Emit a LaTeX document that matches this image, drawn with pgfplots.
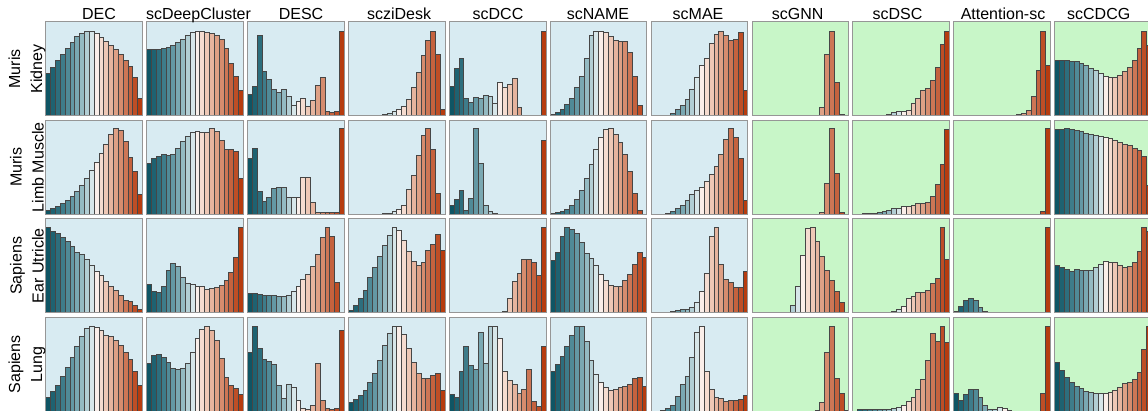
\documentclass[border=0pt]{standalone}
\usepackage{pgfplots}
\pgfplotsset{compat=1.18}
\usepackage{fontspec}
\setmainfont{Liberation Sans}
\definecolor{bgb}{RGB}{216,235,242}
\definecolor{bgg}{RGB}{200,246,200}
\definecolor{frm}{RGB}{150,150,150}
\definecolor{edg}{RGB}{70,70,70}
\definecolor{c0}{RGB}{15,85,100}
\definecolor{c1}{RGB}{30,98,113}
\definecolor{c2}{RGB}{45,110,125}
\definecolor{c3}{RGB}{62,124,138}
\definecolor{c4}{RGB}{80,138,151}
\definecolor{c5}{RGB}{100,152,164}
\definecolor{c6}{RGB}{122,168,178}
\definecolor{c7}{RGB}{148,186,194}
\definecolor{c8}{RGB}{178,206,212}
\definecolor{c9}{RGB}{215,230,233}
\definecolor{c10}{RGB}{250,238,233}
\definecolor{c11}{RGB}{245,220,208}
\definecolor{c12}{RGB}{238,200,182}
\definecolor{c13}{RGB}{230,180,158}
\definecolor{c14}{RGB}{222,160,133}
\definecolor{c15}{RGB}{214,140,110}
\definecolor{c16}{RGB}{205,118,85}
\definecolor{c17}{RGB}{197,98,62}
\definecolor{c18}{RGB}{190,78,38}
\definecolor{c19}{RGB}{182,60,15}
\pgfplotsset{panel/.style={width=96.7pt,height=94.3pt,scale only axis,anchor=south west,
  xmin=-0.5,xmax=19.5,ymin=0,xtick=\empty,ytick=\empty,
  axis line style={draw=frm,line width=1pt},axis on top}}
\newcommand\hist[1]{%
  \foreach \v [count=\i from 0] in {#1} {%
    \edef\tmp{\noexpand\addplot[ybar,bar width=1,bar shift=0pt,fill=c\i,draw=edg,line width=0.7pt] coordinates {(\i,\v)};}%
    \tmp
  }}
\newcommand\panel[5]{%
  \begin{axis}[panel,at={(45.7pt+#1*100.9pt,295pt-#2*98.5pt)},axis background/.style={fill=#3},ymax=#4]
  \hist{#5}
  \end{axis}}
\begin{document}
\begin{tikzpicture}[font=\fontsize{16}{22}\selectfont]
% Row 0: Muris Kidney
\panel{0}{0}{bgb}{283}{128,146,167,185,202,222,238,248,253,254,248,236,224,213,200,185,168,148,115,53}
\panel{1}{0}{bgb}{283}{200,200,200,202,206,213,220,230,241,250,254,253,251,248,243,230,203,158,118,78}
\panel{2}{0}{bgb}{283}{65,88,243,135,111,80,70,80,58,33,43,53,30,48,92,116,13,10,15,253}
\panel{3}{0}{bgb}{283}{0,0,0,0,0.5,1,2,4,7,14,20,30,51,86,131,181,228,253,185,21}
\panel{4}{0}{bgb}{283}{88,143,173,53,41,57,53,61,58,38,100,86,96,112,26,2,1,1,2,253}
\panel{5}{0}{bgb}{283}{5,11,20,36,53,86,120,174,243,253,254,250,238,228,223,223,191,120,32,1}
\panel{6}{0}{bgb}{283}{0,0,1,2,8,20,33,50,80,117,151,173,218,245,253,243,228,230,251,78}
\panel{7}{0}{bgg}{283}{0,0,0,0,0,0,0,0,0,0,0,0,0,0,26,186,253,100,5,0}
\panel{8}{0}{bgg}{283}{0,0,0,0,0,1,3,6,10,13,15,18,38,53,78,83,108,146,215,253}
\panel{9}{0}{bgg}{283}{0,0,0,0,0,0,0,0,0,0,1,1,2,4,8,18,60,138,253,152}
\panel{10}{0}{bgg}{283}{166,166,166,165,163,158,151,143,136,128,120,116,116,123,133,145,166,203,253,213}
% Row 1: Muris Limb Muscle
\panel{0}{1}{bgb}{279}{13,17,25,34,42,55,69,87,107,132,155,182,209,237,254,249,215,170,129,59}
\panel{1}{1}{bgb}{279}{152,167,172,177,175,179,195,215,230,242,247,242,242,254,245,219,194,192,187,107}
\panel{2}{1}{bgb}{279}{167,197,67,39,52,77,80,79,52,52,52,111,109,35,7,5,5,5,5,254}
\panel{3}{1}{bgb}{279}{0,0,0,0,0,0,1,2,4,8,14,27,73,117,175,234,254,192,64,1}
\panel{4}{1}{bgb}{279}{27,44,71,11,47,254,152,27,10,4,1,0,0,0,0,0,0,0,0,219}
\panel{5}{1}{bgb}{279}{3,5,9,14,27,45,72,107,149,192,229,252,254,237,212,179,129,62,12,1}
\panel{6}{1}{bgb}{279}{0,0,1,3,9,17,27,42,59,72,79,99,119,142,177,222,254,227,165,42}
\panel{7}{1}{bgg}{279}{0,0,0,0,0,0,0,0,0,0,0,0,0,0,7,92,254,122,5,0}
\panel{8}{1}{bgg}{279}{0,1,2,3,4,6,9,12,17,17,23,24,26,32,32,35,55,89,149,252}
\panel{9}{1}{bgg}{279}{0,0,0,0,0,0,0,0,0,0,0,0,0,0,0,0,0,1,9,254}
\panel{10}{1}{bgg}{279}{252,252,254,252,249,245,240,237,234,232,227,224,219,214,209,204,197,189,172,85}
% Row 2: Sapiens Ear Utricle
\panel{0}{2}{bgb}{278}{253,242,234,223,212,197,180,172,158,140,122,112,93,80,67,52,38,33,22,10}
\panel{1}{2}{bgb}{278}{83,65,60,80,125,145,138,105,88,85,80,78,69,72,75,82,95,120,163,252}
\panel{2}{2}{bgb}{278}{57,57,54,52,51,51,50,50,53,64,80,100,115,137,173,222,252,225,90,3}
\panel{3}{2}{bgb}{278}{8,23,42,68,105,135,167,198,230,252,245,215,182,152,140,150,185,203,232,185}
\panel{4}{2}{bgb}{278}{0,0,0,0,0,0,0,0,0,0,0,4,43,93,118,157,158,150,110,252}
\panel{5}{2}{bgb}{278}{155,178,227,252,248,235,208,175,160,140,115,95,82,80,80,95,113,142,178,165}
\panel{6}{2}{bgb}{278}{0,0,1,3,4,7,10,12,18,32,64,118,225,252,143,98,90,75,75,123}
\panel{7}{2}{bgg}{278}{0,0,0,0,0,0,0,3,23,79,170,250,252,212,167,126,95,65,32,3}
\panel{8}{2}{bgg}{278}{0,0,0,3,0,1,1,3,4,12,20,42,48,62,60,68,88,103,252,157}
\panel{9}{2}{bgg}{278}{4,19,38,44,38,17,5,1,0,0,0,1,0,0,0,0,0,0,3,252}
\panel{10}{2}{bgg}{278}{140,134,128,123,128,125,125,127,135,142,152,148,148,140,134,138,150,182,252,242}
% Row 3: Sapiens Lung
\panel{0}{3}{bgb}{281}{43,60,78,105,131,160,193,225,248,255,251,241,228,223,211,198,175,155,121,78}
\panel{1}{3}{bgb}{281}{143,166,171,160,145,128,125,128,143,175,218,245,255,243,211,158,103,78,68,51}
\panel{2}{3}{bgb}{281}{175,255,188,156,148,140,78,38,81,71,33,8,5,18,143,33,8,6,8,243}
\panel{3}{3}{bgb}{281}{27,35,47,63,86,115,152,196,233,255,255,231,188,146,115,98,98,107,115,62}
\panel{4}{3}{bgb}{281}{51,41,119,193,138,125,236,143,253,255,217,121,93,81,55,67,125,30,15,193}
\panel{5}{3}{bgb}{281}{121,140,165,195,228,255,253,210,153,111,88,71,63,67,73,75,81,98,103,75}
\panel{6}{3}{bgb}{281}{0,1,3,8,18,45,81,105,161,235,255,121,65,41,38,31,33,33,35,47}
\panel{7}{3}{bgg}{281}{0,0,0,0,0,0,0,0,0,0,0,0,0,3,26,175,255,98,53,3}
\panel{8}{3}{bgg}{281}{0,5,7,7,6,5,6,7,8,13,18,31,43,65,95,153,233,210,255,205}
\panel{9}{3}{bgg}{281}{55,33,51,65,65,43,18,6,5,11,8,3,1,0,0,0,0,0,55,255}
\panel{10}{3}{bgg}{281}{145,123,103,88,75,68,60,56,53,53,55,58,63,73,83,88,95,118,185,255}
% column titles
\node[anchor=base] at (99pt,391pt) {DEC};
\node[anchor=base] at (198.5pt,391pt) {scDeepCluster};
\node[anchor=base] at (301pt,391pt) {DESC};
\node[anchor=base] at (399pt,391pt) {scziDesk};
\node[anchor=base] at (498pt,391pt) {scDCC};
\node[anchor=base] at (598pt,391pt) {scNAME};
\node[anchor=base] at (698pt,391pt) {scMAE};
\node[anchor=base] at (797.6pt,391pt) {scGNN};
\node[anchor=base] at (897.5pt,391pt) {scDSC};
\node[anchor=base] at (1003pt,391pt) {Attention-sc};
\node[anchor=base] at (1098.7pt,391pt) {scCDCG};
% row labels
\node[rotate=90,align=center] at (27pt,342.15pt) {Muris\\Kidney};
\node[rotate=90,align=center] at (27pt,243.65pt) {Muris\\Limb Muscle};
\node[rotate=90,align=center] at (27pt,145.15pt) {Sapiens\\Ear Utricle};
\node[rotate=90,align=center] at (27pt,46.65pt) {Sapiens\\Lung};
\pgfresetboundingbox
\path[use as bounding box] (0,0) rectangle (1148pt,411pt);
\end{tikzpicture}
\end{document}
